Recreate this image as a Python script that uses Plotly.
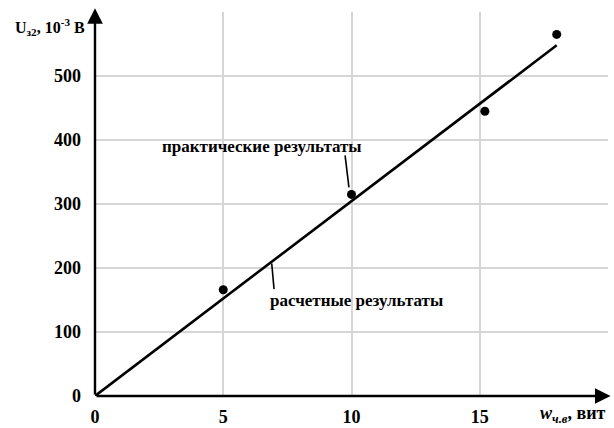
import plotly.graph_objects as go

# measured points: turns of the winding vs. output voltage (mV)
turns_meas = [5, 10, 15.2, 18]
volts_meas = [166, 315, 445, 565]

# calculated characteristic
turns_calc = [0, 18]
volts_calc = [0, 548]

x_ticks = [0, 5, 10, 15, 20]
x_tick_text = ["0", "5", "10", "15", ""]
y_ticks = [0, 100, 200, 300, 400, 500, 600]
y_tick_text = ["0", "100", "200", "300", "400", "500", ""]

SERIF = "Liberation Serif, serif"

fig = go.Figure()
fig.add_trace(go.Scatter(
    x=turns_calc, y=volts_calc, mode="lines",
    line=dict(color="black", width=2.6), showlegend=False, hoverinfo="skip",
))
fig.add_trace(go.Scatter(
    x=turns_meas, y=volts_meas, mode="markers",
    marker=dict(color="black", size=9), showlegend=False,
))

# leader lines for the captions
fig.add_shape(type="line", x0=9.75, y0=376, x1=9.9, y1=326,
              line=dict(color="black", width=1.6))
fig.add_shape(type="line", x0=6.89, y0=207, x1=6.98, y1=167,
              line=dict(color="black", width=1.6))

lbl_font = dict(family=SERIF, size=17, color="black", weight="bold")
fig.add_annotation(x=6.51, y=390, text="практические результаты",
                   showarrow=False, font=lbl_font)
fig.add_annotation(x=10.18, y=150, text="расчетные результаты",
                   showarrow=False, font=lbl_font)

# axes drawn as arrows
fig.add_annotation(x=0, y=606, ax=0, ay=0, xref="x", yref="y", axref="x", ayref="y",
                   text="", showarrow=True, arrowhead=2, arrowsize=1.3,
                   arrowwidth=2.4, arrowcolor="black")
fig.add_annotation(x=20.1, y=0, ax=0, ay=0, xref="x", yref="y", axref="x", ayref="y",
                   text="", showarrow=True, arrowhead=2, arrowsize=1.3,
                   arrowwidth=2.4, arrowcolor="black")

# axis titles
fig.add_annotation(xref="paper", yref="paper", x=-0.088, y=0.995, xanchor="center",
                   text="U<sub>з2</sub>, 10<sup>-3</sup> В", showarrow=False,
                   font=dict(family=SERIF, size=16, color="black", weight="bold"))
fig.add_annotation(xref="paper", yref="paper", x=0.998, y=-0.012,
                   xanchor="right", yanchor="top",
                   text="<i>w<sub>ч.в</sub></i>, вит", showarrow=False,
                   font=dict(family=SERIF, size=18, color="black", weight="bold"))

tick_font = dict(family=SERIF, size=18, color="black", weight="bold")
fig.update_xaxes(range=[0, 20], tickvals=x_ticks, ticktext=x_tick_text,
                 showgrid=True, gridcolor="#d6d6d6", gridwidth=1.6,
                 zeroline=False, showline=False, ticks="", tickfont=tick_font,
                 ticklabelstandoff=8, automargin=False)
fig.update_yaxes(range=[0, 600], tickvals=y_ticks, ticktext=y_tick_text,
                 showgrid=True, gridcolor="#d6d6d6", gridwidth=1.6,
                 zeroline=False, showline=False, ticks="", tickfont=tick_font,
                 ticklabelstandoff=13, automargin=False)

fig.update_layout(
    width=614, height=428,
    margin=dict(l=95, r=6, t=12, b=32),
    plot_bgcolor="white", paper_bgcolor="white",
)

fig.write_html("out.html")
